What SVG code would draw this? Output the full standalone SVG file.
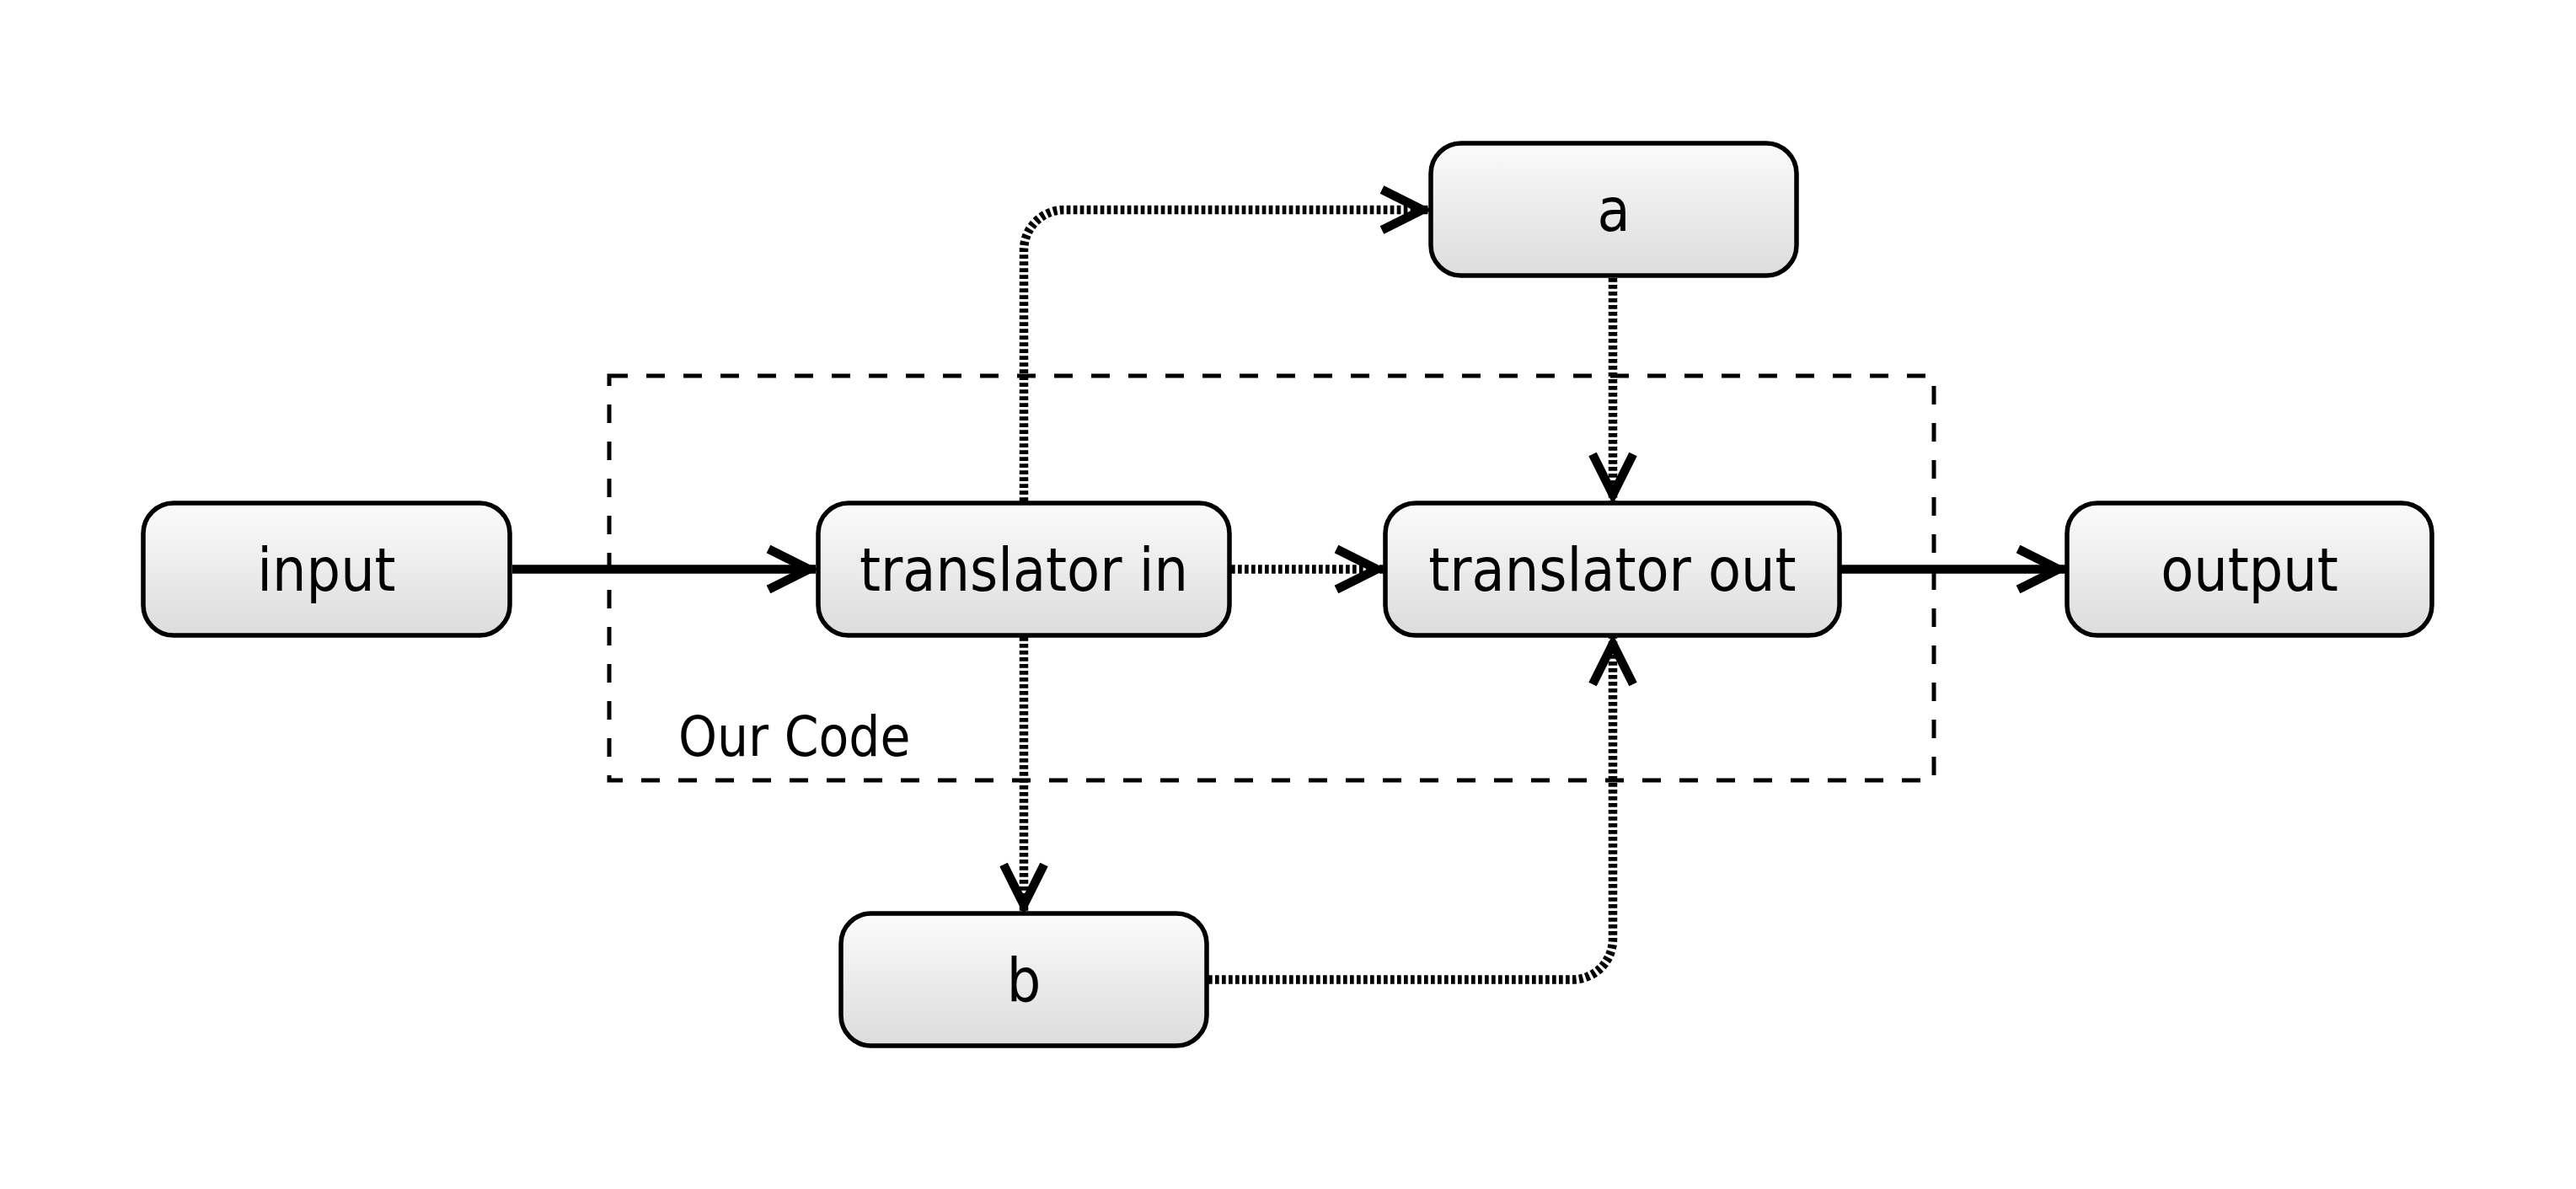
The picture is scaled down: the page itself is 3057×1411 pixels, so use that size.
<svg xmlns="http://www.w3.org/2000/svg" width="3057" height="1411" viewBox="0 0 3057 1411">
<style>
.box{fill:url(#g);stroke:#000;stroke-width:5.5}
.lbl{font-family:"DejaVu Sans Condensed","DejaVu Sans",sans-serif;font-stretch:condensed;font-size:71px;text-anchor:middle;fill:#000}
.solid{fill:none;stroke:#000;stroke-width:10.5}
.dot{fill:none;stroke:#000;stroke-width:10.5;stroke-dasharray:4.7 3.3}
.frame{fill:none;stroke:#000;stroke-width:5;stroke-dasharray:22 22}
</style>
<defs>
<linearGradient id="g" x1="0" y1="0" x2="0" y2="1">
<stop offset="0" stop-color="#fbfbfb"/>
<stop offset="1" stop-color="#dcdcdc"/>
</linearGradient>
<marker id="arr" markerUnits="userSpaceOnUse" markerWidth="90" markerHeight="90" viewBox="-70 -45 90 90" refX="8" refY="0" orient="auto" overflow="visible">
<path d="M-48,-24 L0,0 L-48,24" fill="none" stroke="#000" stroke-width="10.5" stroke-linejoin="miter" stroke-dasharray="none"/>
</marker>
</defs>
<rect width="3057" height="1411" fill="#fff"/>
<g id="our-code">
<rect class="frame" x="723" y="446" width="1572" height="480"/>
<text x="805" y="897" font-family="DejaVu Sans Condensed, DejaVu Sans, sans-serif" font-stretch="condensed" font-size="65">Our Code</text>
</g>
<g id="connectors">
<path class="solid" d="M608,675.5 H968" marker-end="url(#arr)"/>
<path class="solid" d="M2185,675.5 H2451" marker-end="url(#arr)"/>
<path class="dot" d="M1461,675.5 H1642" marker-end="url(#arr)"/>
<path class="dot" d="M1215,595 V297 A48,48 0 0 1 1263,249 H1696" marker-end="url(#arr)"/>
<path class="dot" d="M1914,330 V595" marker-end="url(#arr)"/>
<path class="dot" d="M1215,756 V1082" marker-end="url(#arr)"/>
<path class="dot" d="M1434,1162.5 H1866 A48,48 0 0 0 1914,1114.5 V756" marker-end="url(#arr)"/>
</g>
<g id="input"><rect class="box" x="170" y="597" width="435" height="157" rx="36"/><text class="lbl" x="387.5" y="701">input</text></g>
<g id="translator-in"><rect class="box" x="971" y="597" width="488" height="157" rx="36"/><text class="lbl" x="1215" y="701">translator in</text></g>
<g id="translator-out"><rect class="box" x="1644" y="597" width="539" height="157" rx="36"/><text class="lbl" x="1913.5" y="701">translator out</text></g>
<g id="output"><rect class="box" x="2453" y="597" width="433" height="157" rx="36"/><text class="lbl" x="2669.5" y="701">output</text></g>
<g id="a"><rect class="box" x="1698" y="170" width="434" height="157" rx="36"/><text class="lbl" x="1915" y="274">a</text></g>
<g id="b"><rect class="box" x="998" y="1084" width="434" height="157" rx="36"/><text class="lbl" x="1215" y="1188">b</text></g>
</svg>
